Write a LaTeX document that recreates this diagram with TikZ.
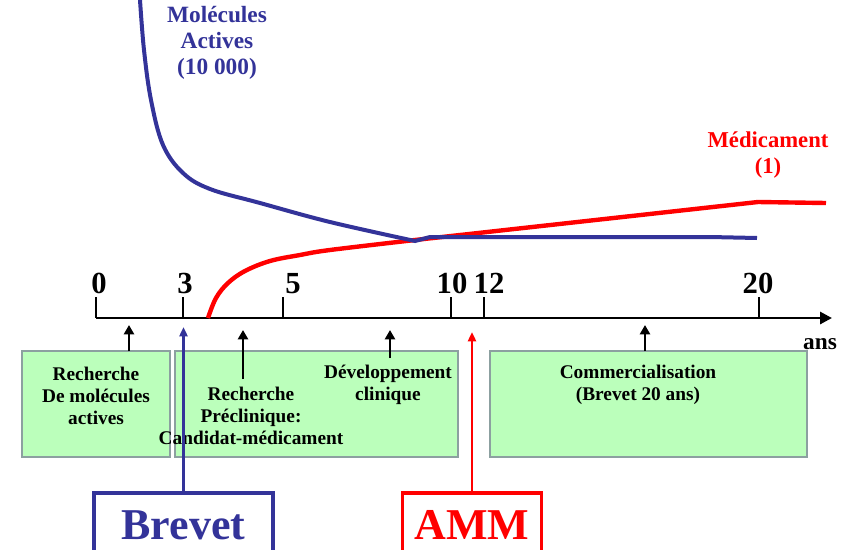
\documentclass[tikz,border=0pt]{standalone}
\usepackage{fontspec}
\setmainfont{Liberation Serif}
\usetikzlibrary{arrows.meta}
\definecolor{molblue}{RGB}{51,51,153}
\definecolor{boxgreen}{RGB}{187,255,187}
\definecolor{boxgray}{RGB}{140,160,160}
\begin{document}
\begin{tikzpicture}[x=0.75pt,y=-0.75pt,
  phase/.style={draw=boxgray,fill=boxgreen,line width=2pt},
  boxtext/.style={align=center,font=\fontsize{14.5}{16.5}\selectfont\bfseries,inner sep=0pt},
  ticklabel/.style={anchor=base,font=\fontsize{23}{26}\selectfont\bfseries,inner sep=0pt},
  uparrow/.style={-{Triangle[length=7pt,width=7.5pt]},line width=2.2pt,black},
  bigbox/.style={line width=2.6pt,font=\fontsize{33}{36}\selectfont\bfseries,inner sep=0pt,minimum height=48pt}]
\useasboundingbox (0,0) rectangle (854,550);
\clip (0,0) rectangle (854,550);
% phase boxes
\draw[phase] (22,351) rectangle (170,457);
\draw[phase] (175,351) rectangle (458,457);
\draw[phase] (490,351) rectangle (807,457);
\node[boxtext] (b1) at (96,396) {Recherche\\De molécules\\actives};
\node[boxtext] (b2) at (251,416) {Recherche\\Préclinique:\\Candidat-médicament};
\node[boxtext] (b3) at (388,385) {Développement\\clinique};
\node[boxtext] (b4) at (638,385) {Commercialisation\\(Brevet 20 ans)};
% axis
\coordinate (o) at (96,318);
\coordinate (e) at (832,318);
\draw[line width=2.2pt,-{Triangle[length=9pt,width=9pt]}] (o) -- (e);
\foreach \x in {96,183,283,451,484,759}{
  \draw[line width=2pt] (\x,297) -- (\x,318);
}
\node[ticklabel] (t0) at (99,293) {0};
\node[ticklabel] (t3) at (185,293) {3};
\node[ticklabel] (t5) at (293,293) {5};
\node[ticklabel] (t10) at (452,293) {10};
\node[ticklabel] (t12) at (489,293) {12};
\node[ticklabel] (t20) at (758,293) {20};
\node[font=\fontsize{17.5}{20}\selectfont\bfseries,inner sep=0pt] (ans) at (820,344) {ans};
% up arrows
\coordinate (a1s) at (129,351); \coordinate (a1e) at (129,325);
\coordinate (a2s) at (243,379); \coordinate (a2e) at (243,330);
\coordinate (a3s) at (390,358); \coordinate (a3e) at (390,330);
\coordinate (a4s) at (645,351); \coordinate (a4e) at (645,325);
\draw[uparrow] (a1s) -- (a1e);
\draw[uparrow] (a2s) -- (a2e);
\draw[uparrow] (a3s) -- (a3e);
\draw[uparrow] (a4s) -- (a4e);
% curves
\draw[red,line width=3.3pt] plot[smooth,tension=0.6] coordinates {(208,318) (216,298) (228,283) (245,271) (270,261) (300,255) (330,250) (415,240)} -- (758,202) -- (826,203);
\draw[molblue,line width=3pt] plot[smooth,tension=0.6] coordinates {(140,0) (144,50) (151,100) (163,145) (183,173) (210,189) (260,203) (330,222) (415,241)} -- (430,237) -- (710,237) -- (757,238);
\node[align=center,text=molblue,font=\fontsize{17.5}{19.5}\selectfont\bfseries,inner sep=0pt] (mol) at (217,43) {Molécules\\Actives\\(10 000)};
\node[align=center,text=red,font=\fontsize{17}{19.5}\selectfont\bfseries,inner sep=0pt] (med) at (768,155) {Médicament\\(1)};
% Brevet and AMM
\node[bigbox,draw=molblue,text=molblue,minimum width=134pt] (brevet) at (183.5,525) {Brevet};
\node[bigbox,draw=red,text=red,minimum width=104pt] (amm) at (472,525) {AMM};
\coordinate (bt) at (183.5,327);
\coordinate (at) at (472,332);
\draw[molblue,line width=1.8pt,-{Triangle[length=7pt,width=6pt]}] (brevet.north) -- (bt);
\draw[red,line width=1.8pt,-{Triangle[length=7pt,width=6pt]}] (amm.north) -- (at);
\end{tikzpicture}
\end{document}
